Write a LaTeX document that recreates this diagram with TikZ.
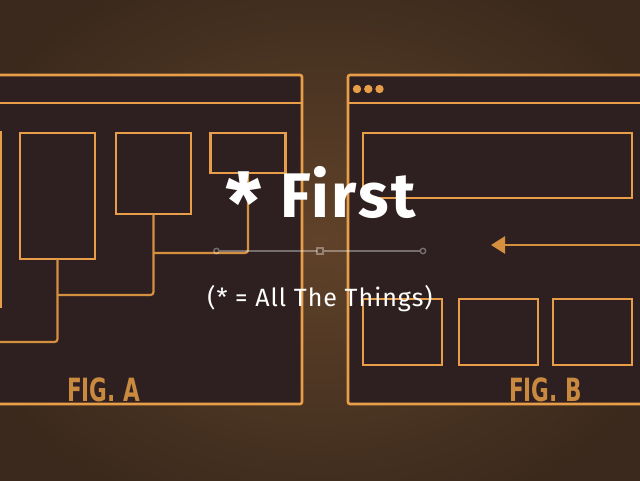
\documentclass[tikz,border=0pt]{standalone}
\usepackage{fontspec}
\usepackage{graphicx}
\newfontfamily\handfont{Fira Sans}
\newfontfamily\figfont{DejaVu Sans Condensed}
\usetikzlibrary{arrows.meta}
\definecolor{bgin}{HTML}{604229}
\definecolor{bgout}{HTML}{3A291C}
\definecolor{winfill}{HTML}{2E2020}
\definecolor{orng}{HTML}{E89E48}
\definecolor{orngdim}{HTML}{D4903F}
\definecolor{figcol}{HTML}{C98A40}
\tikzset{
  win/.style={draw=orng, fill=winfill, line width=2.6pt, rounded corners=2pt},
  boxst/.style={draw=orng, line width=2.6pt, inner sep=0pt, outer sep=0pt},
  conn/.style={draw=orngdim, line width=2.2pt, rounded corners=3pt},
  figlab/.style={font=\figfont\bfseries\fontsize{32}{32}\selectfont, text=figcol, xscale=0.75, inner sep=0pt, anchor=base west},
  slider/.style={draw=white, draw opacity=0.35, line width=2.4pt},
}
\begin{document}
\begin{tikzpicture}[x=1pt,y=-1pt]
\useasboundingbox (0,0) rectangle (640,480);
\shade[inner color=bgin, outer color=bgout] (-60,-60) rectangle (700,540);
% left window
\path[win] (-20,75) rectangle (302,404);
\draw[orng, line width=2.6pt] (-20,103) -- (302,103);
% right window
\path[win] (348,75) rectangle (660,404);
\draw[orng, line width=2.6pt] (348,103) -- (660,103);
\foreach \cx in {357,368.3,379.5} \fill[orng] (\cx,89) circle (4.2pt);
% left boxes
\node[boxst, minimum width=60, minimum height=175] (a0) at (-29.5,219.5) {};
\node[boxst, minimum width=75, minimum height=126] (a1) at (57.5,196) {};
\node[boxst, minimum width=75, minimum height=81] (a2) at (153.5,173.5) {};
\node[boxst, minimum width=75, minimum height=40] (a3) at (248,153) {};
\coordinate (j1) at (153.5,253);
\coordinate (j2) at (57.5,295);
\coordinate (j3) at (-10,342);
\draw[conn] (a3.south) |- (j1);
\draw[conn] (a2.south) |- (j2);
\draw[conn] (a1.south) |- (j3);
% right boxes
\node[boxst, minimum width=269, minimum height=65] (b0) at (497.5,165.5) {};
\node[boxst, minimum width=79, minimum height=66] (b1) at (402.5,332) {};
\node[boxst, minimum width=79, minimum height=66] (b2) at (498.5,332) {};
\node[boxst, minimum width=79, minimum height=66] (b3) at (592.5,332) {};
\coordinate (arrs) at (660,245);
\coordinate (arre) at (491,245);
\draw[orngdim, line width=2.6pt, -{Triangle[length=14pt,width=17pt]}] (arrs) -- (arre);
% labels
\node[figlab] (figa) at (67,401) {FIG. A};
\node[figlab] (figb) at (509,401) {FIG. B};
% slider
\draw[slider] (219.5,251) -- (316.5,251);
\draw[slider] (323.5,251) -- (419.5,251);
\draw[slider, line width=1.4pt] (216.5,251) circle (2.7pt);
\draw[slider, line width=1.4pt] (423,251) circle (2.7pt);
\draw[slider, line width=1.4pt] (317,248) rectangle (323,254);
% title text
\node[font=\handfont\bfseries\fontsize{63}{63}\selectfont\addfontfeature{LetterSpace=4}, text=white, anchor=base, inner sep=0pt] (title) at (321,217) {\raisebox{-15pt}{\scalebox{1.3}{*}} First};
\node[font=\handfont\fontsize{25}{25}\selectfont\addfontfeature{LetterSpace=4}, text=white, anchor=base, inner sep=0pt] (sub) at (320,306) {(* = All The Things)};
\end{tikzpicture}
\end{document}
